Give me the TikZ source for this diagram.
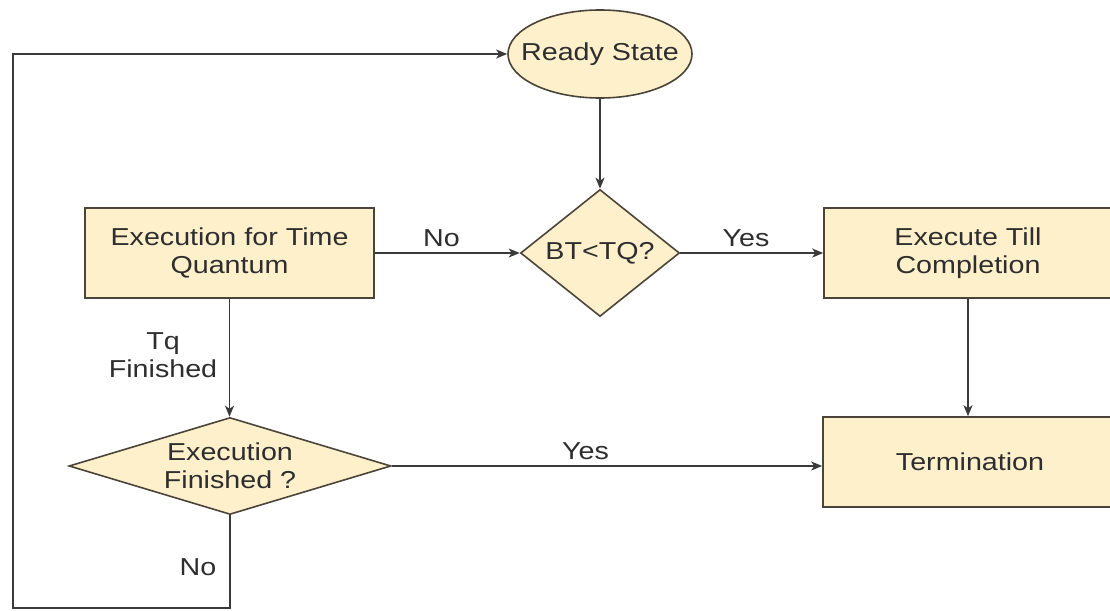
\documentclass[tikz,border=0pt]{standalone}
\usepackage{fontspec}
\setmainfont{Liberation Sans}[FakeStretch=1.17]
\usetikzlibrary{shapes.geometric,arrows.meta}
\definecolor{boxfill}{HTML}{FFF0CC}
\definecolor{boxline}{HTML}{4A4538}
\definecolor{ink}{HTML}{2E2E2E}
\definecolor{wire}{HTML}{3A3A3A}
\tikzset{
  base/.style={fill=boxfill, draw=boxline, line width=1.6pt, text=ink,
    font=\fontsize{24.5}{28}\selectfont, align=center, inner sep=0pt},
  procbox/.style={base, rectangle, minimum height=90pt},
  decide/.style={base, diamond},
  startstate/.style={base, ellipse},
  flow/.style={draw=wire, line width=1.6pt, -{Stealth[length=11pt,width=9pt,inset=3pt]}},
  lbl/.style={text=ink, font=\fontsize{24.5}{28}\selectfont, align=center, inner sep=2pt}
}
\begin{document}
\begin{tikzpicture}[x=1pt,y=-1pt]
  \useasboundingbox (0,0) rectangle (1110,610);
  \clip (0,0) rectangle (1110,610);

  % shapes
  \node[startstate, inner xsep=-14pt, minimum width=184pt, minimum height=88pt] (ready) at (600,54) {Ready State};
  \node[decide, minimum width=159pt, minimum height=127pt, shape aspect=1.25] (bt) at (600,253) {BT<TQ?};
  \node[procbox, minimum width=289pt] (tq) at (229.5,253) {Execution for Time\\Quantum};
  \node[procbox, minimum width=288pt] (etc) at (968,253) {Execute Till\\Completion};
  \node[procbox, minimum width=294pt] (term) at (970,462) {Termination};
  \node[decide, minimum width=322pt, minimum height=97pt, shape aspect=3.3] (fin) at (230,466) {Execution\\Finished ?};

  \coordinate (corner) at (13,608);

  % connectors
  \draw[flow] (ready.south) -- (bt.north);
  \draw[flow] (tq.east) -- node[lbl, above=3pt, pos=0.46] (no1) {No} (bt.west);
  \draw[flow] (bt.east) -- node[lbl, above=3pt, pos=0.46] (yes1) {Yes} (etc.west);
  \draw[flow] (etc.south) -- (etc.south |- term.north);
  \draw[flow] (tq.south) -- (tq.south |- fin.north);
  \node[lbl] (tqdone) at (163,355) {Tq\\Finished};
  \draw[flow] (fin.east) -- node[lbl, above=3pt, pos=0.45] (yes2) {Yes} (fin.east -| term.west);
  \draw[flow] (fin.south) -- node[lbl, left=11pt, pos=0.56] (no2) {No} (fin.south |- corner)
    -- (corner) |- (ready.west);
\end{tikzpicture}
\end{document}
